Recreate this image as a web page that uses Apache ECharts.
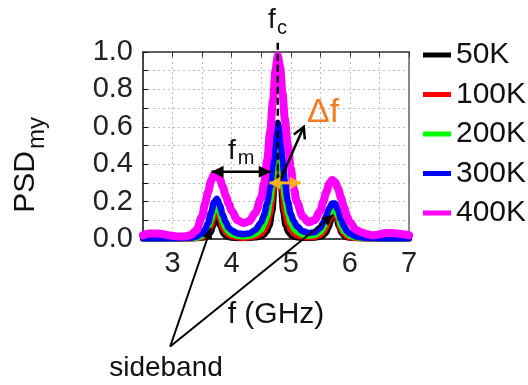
<!DOCTYPE html>
<html>
<head>
<meta charset="utf-8">
<script src="https://cdn.jsdelivr.net/npm/echarts@6/dist/echarts.min.js"></script>
<style>html,body{margin:0;padding:0;background:#fff}#c{width:528px;height:385px}</style>
</head>
<body>
<div id="c"></div>
<script>
// ---- data ----
const freqGHz = [2.5,2.6,2.7,2.8,2.9,3.0,3.1,3.2,3.3,3.4,
  3.5,3.55,3.6,3.65,3.7,3.75,3.8,3.85,3.9,3.95,
  4.0,4.1,4.2,4.3,4.4,4.5,4.55,4.6,4.65,4.7,
  4.74,4.78,4.82,4.86,4.9,4.95,5.0,5.05,5.1,5.2,
  5.3,5.4,5.5,5.55,5.6,5.65,5.7,5.75,5.8,5.85,
  5.9,5.95,6.0,6.1,6.2,6.3,6.4,6.5,6.6,6.7,
  6.8,6.9,7.0];
const psd400K = [0.02,0.03,0.03,0.028,0.022,0.017,0.014,0.014,0.02,0.045,
  0.12,0.19,0.25,0.31,0.345,0.345,0.32,0.28,0.23,0.19,
  0.15,0.1,0.085,0.095,0.14,0.22,0.3,0.42,0.57,0.74,
  0.9,0.98,0.92,0.78,0.64,0.5,0.38,0.27,0.2,0.12,
  0.09,0.1,0.15,0.2,0.25,0.295,0.315,0.305,0.27,0.22,
  0.17,0.12,0.09,0.05,0.035,0.025,0.02,0.025,0.032,0.032,
  0.03,0.025,0.02];
const psd300K = [0.004,0.004,0.004,0.004,0.004,0.004,0.004,0.005,0.007,0.012,
  0.03,0.05,0.085,0.14,0.195,0.215,0.18,0.13,0.09,0.06,
  0.045,0.03,0.026,0.03,0.048,0.09,0.13,0.19,0.28,0.41,
  0.55,0.62,0.56,0.43,0.31,0.2,0.135,0.095,0.07,0.042,
  0.032,0.036,0.06,0.088,0.125,0.165,0.19,0.19,0.155,0.105,
  0.068,0.043,0.028,0.014,0.008,0.006,0.005,0.004,0.004,0.004,
  0.004,0.004,0.004];
const psd200K = [0.003,0.003,0.003,0.003,0.003,0.003,0.003,0.003,0.004,0.006,
  0.016,0.03,0.058,0.1,0.15,0.175,0.14,0.09,0.058,0.037,
  0.026,0.016,0.013,0.016,0.026,0.05,0.078,0.12,0.2,0.32,
  0.47,0.55,0.48,0.34,0.22,0.135,0.085,0.055,0.038,0.022,
  0.016,0.02,0.036,0.058,0.09,0.128,0.155,0.16,0.12,0.072,
  0.042,0.026,0.016,0.008,0.005,0.004,0.003,0.003,0.003,0.003,
  0.003,0.003,0.003];
const psd100K = [0.002,0.002,0.002,0.002,0.002,0.002,0.002,0.002,0.002,0.004,
  0.009,0.018,0.036,0.07,0.12,0.158,0.11,0.062,0.036,0.022,
  0.014,0.008,0.006,0.008,0.013,0.027,0.046,0.078,0.135,0.24,
  0.39,0.49,0.39,0.25,0.145,0.082,0.047,0.029,0.019,0.011,
  0.008,0.011,0.021,0.036,0.062,0.1,0.138,0.152,0.1,0.052,
  0.027,0.014,0.008,0.004,0.003,0.002,0.002,0.002,0.002,0.002,
  0.002,0.002,0.002];
const psd50K = [0.001,0.001,0.001,0.001,0.001,0.001,0.001,0.001,0.001,0.001,
  0.004,0.007,0.014,0.032,0.072,0.14,0.068,0.028,0.013,0.007,
  0.004,0.002,0.002,0.002,0.005,0.011,0.02,0.036,0.07,0.15,
  0.3,0.45,0.3,0.15,0.072,0.035,0.018,0.01,0.006,0.003,
  0.002,0.004,0.009,0.016,0.03,0.06,0.108,0.138,0.07,0.03,
  0.013,0.006,0.003,0.002,0.001,0.001,0.001,0.001,0.001,0.001,
  0.001,0.001,0.001];
const legendNames = ['50K','100K','200K','300K','400K'];
const xTickLabels = ['3','4','5','6','7'];
const yTickLabels = ['0.0','0.2','0.4','0.6','0.8','1.0'];

// annotation anchors in data units (f, PSD)
const fc = 4.78;

const FONT = 'Liberation Sans, Arial, sans-serif';
const pairs = v => freqGHz.map((f,i)=>[f, v[i]]);

// drawn in this order: 50K at the bottom, 400K on top
const seriesDefs = [
  {name:'50K',  data:psd50K,  color:'#000000', w:5},
  {name:'100K', data:psd100K, color:'#ff0000', w:6},
  {name:'200K', data:psd200K, color:'#00ff00', w:6},
  {name:'300K', data:psd300K, color:'#0000ff', w:6.5},
  {name:'400K', data:psd400K, color:'#ff00ff', w:8}
];

const chart = echarts.init(document.getElementById('c'));
const option = {
  animation:false,
  backgroundColor:'#fff',
  grid:{left:143, right:119, top:52, bottom:146},
  legend:{
    data:legendNames, orient:'vertical', left:423, top:40, padding:0,
    icon:'rect', itemWidth:28, itemHeight:5, itemGap:9.5,
    textStyle:{fontFamily:FONT, fontSize:30, color:'#111'}
  },
  xAxis:[{
    type:'value', min:2.5, max:7, interval:0.5,
    axisLine:{show:true, onZero:false, lineStyle:{color:'#111', width:1.5}},
    axisTick:{show:true, inside:true, length:5, lineStyle:{color:'#111'}},
    axisLabel:{fontFamily:FONT, fontSize:29, color:'#222', margin:10,
      formatter:v=>{const s=String(Math.round(v)); return (Math.abs(v-Math.round(v))<1e-6 && xTickLabels.includes(s))?s:'';}},
    splitLine:{show:true, lineStyle:{color:'#bbb', type:[2,3], width:1}}
  },{
    type:'value', position:'top', min:2.5, max:7, interval:0.5,
    axisLine:{show:true, onZero:false, lineStyle:{color:'#333', width:1.5}},
    axisTick:{show:true, inside:true, length:5, lineStyle:{color:'#333'}},
    axisLabel:{show:false}, splitLine:{show:false}
  }],
  yAxis:[{
    type:'value', min:0, max:1, interval:0.1,
    axisLine:{show:true, onZero:false, lineStyle:{color:'#111', width:1.5}},
    axisTick:{show:true, inside:true, length:5, lineStyle:{color:'#111'}},
    axisLabel:{fontFamily:FONT, fontSize:29, color:'#222', margin:10,
      formatter:v=>{const s=v.toFixed(1); return yTickLabels.includes(s)?s:'';}},
    splitLine:{show:true, lineStyle:{color:'#bbb', type:[2,3], width:1}}
  },{
    type:'value', position:'right', min:0, max:1, interval:0.1,
    axisLine:{show:true, onZero:false, lineStyle:{color:'#666', width:1.5}},
    axisTick:{show:false}, axisLabel:{show:false}, splitLine:{show:false}
  }],
  series: seriesDefs.map(s=>({
    type:'line', name:s.name, data:pairs(s.data), xAxisIndex:0, yAxisIndex:0,
    showSymbol:false, symbol:'none', smooth:0.3, smoothMonotone:'x',
    color:s.color,
    lineStyle:{color:s.color, width:s.w, join:'round', cap:'round'},
    emphasis:{disabled:true}
  }))
};
chart.setOption(option);

const P = (x,y)=>chart.convertToPixel({gridIndex:0},[x,y]);
function head(tip, from, len, w, color, filled){
  const dx=tip[0]-from[0], dy=tip[1]-from[1], d=Math.hypot(dx,dy), ux=dx/d, uy=dy/d;
  const bx=tip[0]-ux*len, by=tip[1]-uy*len;
  const p1=[bx-uy*w, by+ux*w], p2=[bx+uy*w, by-ux*w];
  return filled ? {type:'polygon', z:100, shape:{points:[tip,p1,p2]}, style:{fill:color}}
                : {type:'polyline', z:100, shape:{points:[p1,tip,p2]}, style:{stroke:color, lineWidth:2.5, fill:null}};
}
function line(a,b,color,w,dash){
  return {type:'line', z:100, shape:{x1:a[0],y1:a[1],x2:b[0],y2:b[1]}, style:{stroke:color, lineWidth:w, lineDash:dash||null}};
}
function dbl(a,b,color,w,len,hw){
  return [line(a,b,color,w), head(a,b,len,hw,color,true), head(b,a,len,hw,color,true)];
}
function txt(x,y,t,size,color,align,rot){
  return {type:'text', z:110, x:x, y:y, rotation:rot||0,
    style:{text:t, fill:color||'#111', font:size+'px '+FONT, textAlign:align||'center', textVerticalAlign:'middle'}};
}

const g = [];
// f_c dashed line
g.push(line(P(fc,1.05), P(fc,0.32), '#000', 2.5, [7,4]));
// f_m double arrow
g.push(...dbl(P(3.66,0.36), P(4.66,0.36), '#000', 2.5, 12, 6));
// Δf arrow (open head)
const dfA = P(4.8,0.3), dfB = P(5.22,0.6);
g.push(line(dfA, dfB, '#000', 2.5));
g.push(head(dfB, dfA, 11, 6, '#000', false));
// orange double arrow
g.push(...dbl(P(4.64,0.3), P(5.17,0.3), '#ffb020', 3, 11, 6.5));
// sideband arrows
const sb = P(2.96,-0.575);
const sbL = P(3.65,0.06), sbR = P(5.72,0.13);
g.push(line(sb, sbL, '#000', 2));
g.push(head(sbL, sb, 11, 5, '#000', true));
g.push(line(sb, sbR, '#000', 2));
g.push(head(sbR, sb, 11, 5, '#000', true));
// texts
g.push(txt(272,20,'f',28));
g.push(txt(282,28,'c',20));
g.push(txt(232,151,'f',28));
g.push(txt(246,158,'m',20));
g.push(txt(323,113,'Δf',34,'#f77b21'));
g.push(txt(276,315,'f (GHz)',30));
g.push(txt(166,368,'sideband',28));
g.push(txt(26,182,'PSD',30,'#111','center',Math.PI/2));
g.push(txt(37,133,'my',24,'#111','center',Math.PI/2));
chart.setOption({graphic:{elements:g}});
</script>
</body>
</html>
